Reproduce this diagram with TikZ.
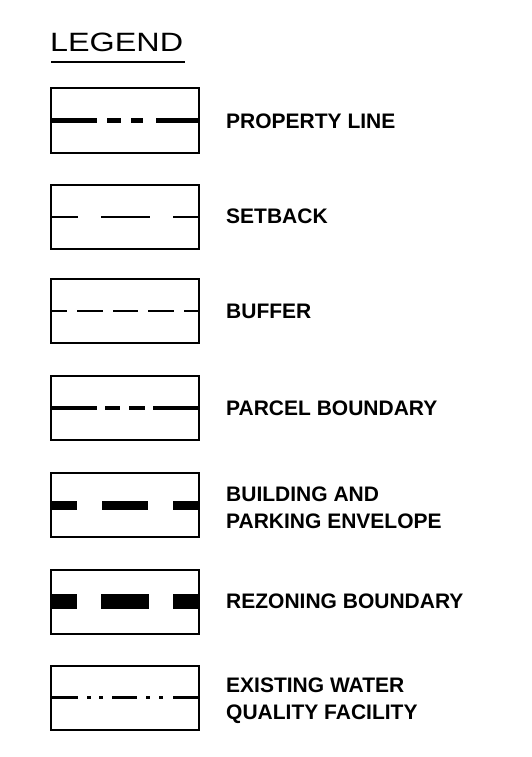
\documentclass[tikz,border=0pt]{standalone}
\usepackage{fontspec}
\setmainfont{Liberation Sans}
\begin{document}
\begin{tikzpicture}[x=1pt,y=-1pt,
  legbox/.style={draw,line width=2pt,minimum width=148pt,minimum height=64pt,inner sep=0pt,outer sep=0pt},
  legtext/.style={anchor=west,inner sep=0pt,align=left,font=\fontsize{21}{27}\selectfont\bfseries},
  sample/.style={line cap=butt}]
\useasboundingbox (0,0) rectangle (531,757);
% title
\node[anchor=base west,inner sep=0pt] (title) at (50,52) {\scalebox{1.22}[1]{\fontsize{26.5}{30}\selectfont LEGEND}};
\coordinate (ulA) at (51,62);
\coordinate (ulB) at (185,62);
\draw[line width=2.2pt] (ulA) -- (ulB);
% boxes
\node[legbox] (b1) at (125,120.5) {};
\node[legbox] (b2) at (125,216.5) {};
\node[legbox] (b3) at (125,311) {};
\node[legbox] (b4) at (125,408) {};
\node[legbox] (b5) at (125,505) {};
\node[legbox] (b6) at (125,601.5) {};
\node[legbox] (b7) at (125,697.5) {};
% samples
\draw[sample,line width=4.5pt,dash pattern=on 46pt off 10pt on 14pt off 10pt on 12pt off 13pt on 60pt] (b1.west) -- (b1.east);
\draw[sample,line width=2pt,dash pattern=on 27pt off 23pt on 49pt off 23pt on 60pt] (b2.west) -- (b2.east);
\draw[sample,line width=2.8pt,dash pattern=on 16pt off 10pt on 26pt off 10pt on 25pt off 10pt on 26pt off 10pt on 60pt] (b3.west) -- (b3.east);
\draw[sample,line width=3.8pt,dash pattern=on 46pt off 8pt on 15pt off 9pt on 16pt off 8pt on 60pt] (b4.west) -- (b4.east);
\draw[sample,line width=9pt,dash pattern=on 26pt off 25pt on 46pt off 25pt on 60pt] (b5.west) -- (b5.east);
\draw[sample,line width=15pt,dash pattern=on 26pt off 24pt on 48pt off 24pt on 60pt] (b6.west) -- (b6.east);
\draw[sample,line width=3.4pt,dash pattern=on 27pt off 9pt on 4pt off 8pt on 4pt off 9pt on 25pt off 9pt on 4pt off 9pt on 4pt off 10pt on 60pt] (b7.west) -- (b7.east);
% labels
\node[legtext] (t1) at (226,121) {PROPERTY LINE};
\node[legtext] (t2) at (226,216.5) {SETBACK};
\node[legtext] (t3) at (226,311) {BUFFER};
\node[legtext] (t4) at (226,408) {PARCEL BOUNDARY};
\node[legtext] (t5) at (226,508) {BUILDING AND\\PARKING ENVELOPE};
\node[legtext] (t6) at (226,601.5) {REZONING BOUNDARY};
\node[legtext] (t7) at (226,701) {EXISTING WATER\\QUALITY FACILITY};
\end{tikzpicture}
\end{document}
